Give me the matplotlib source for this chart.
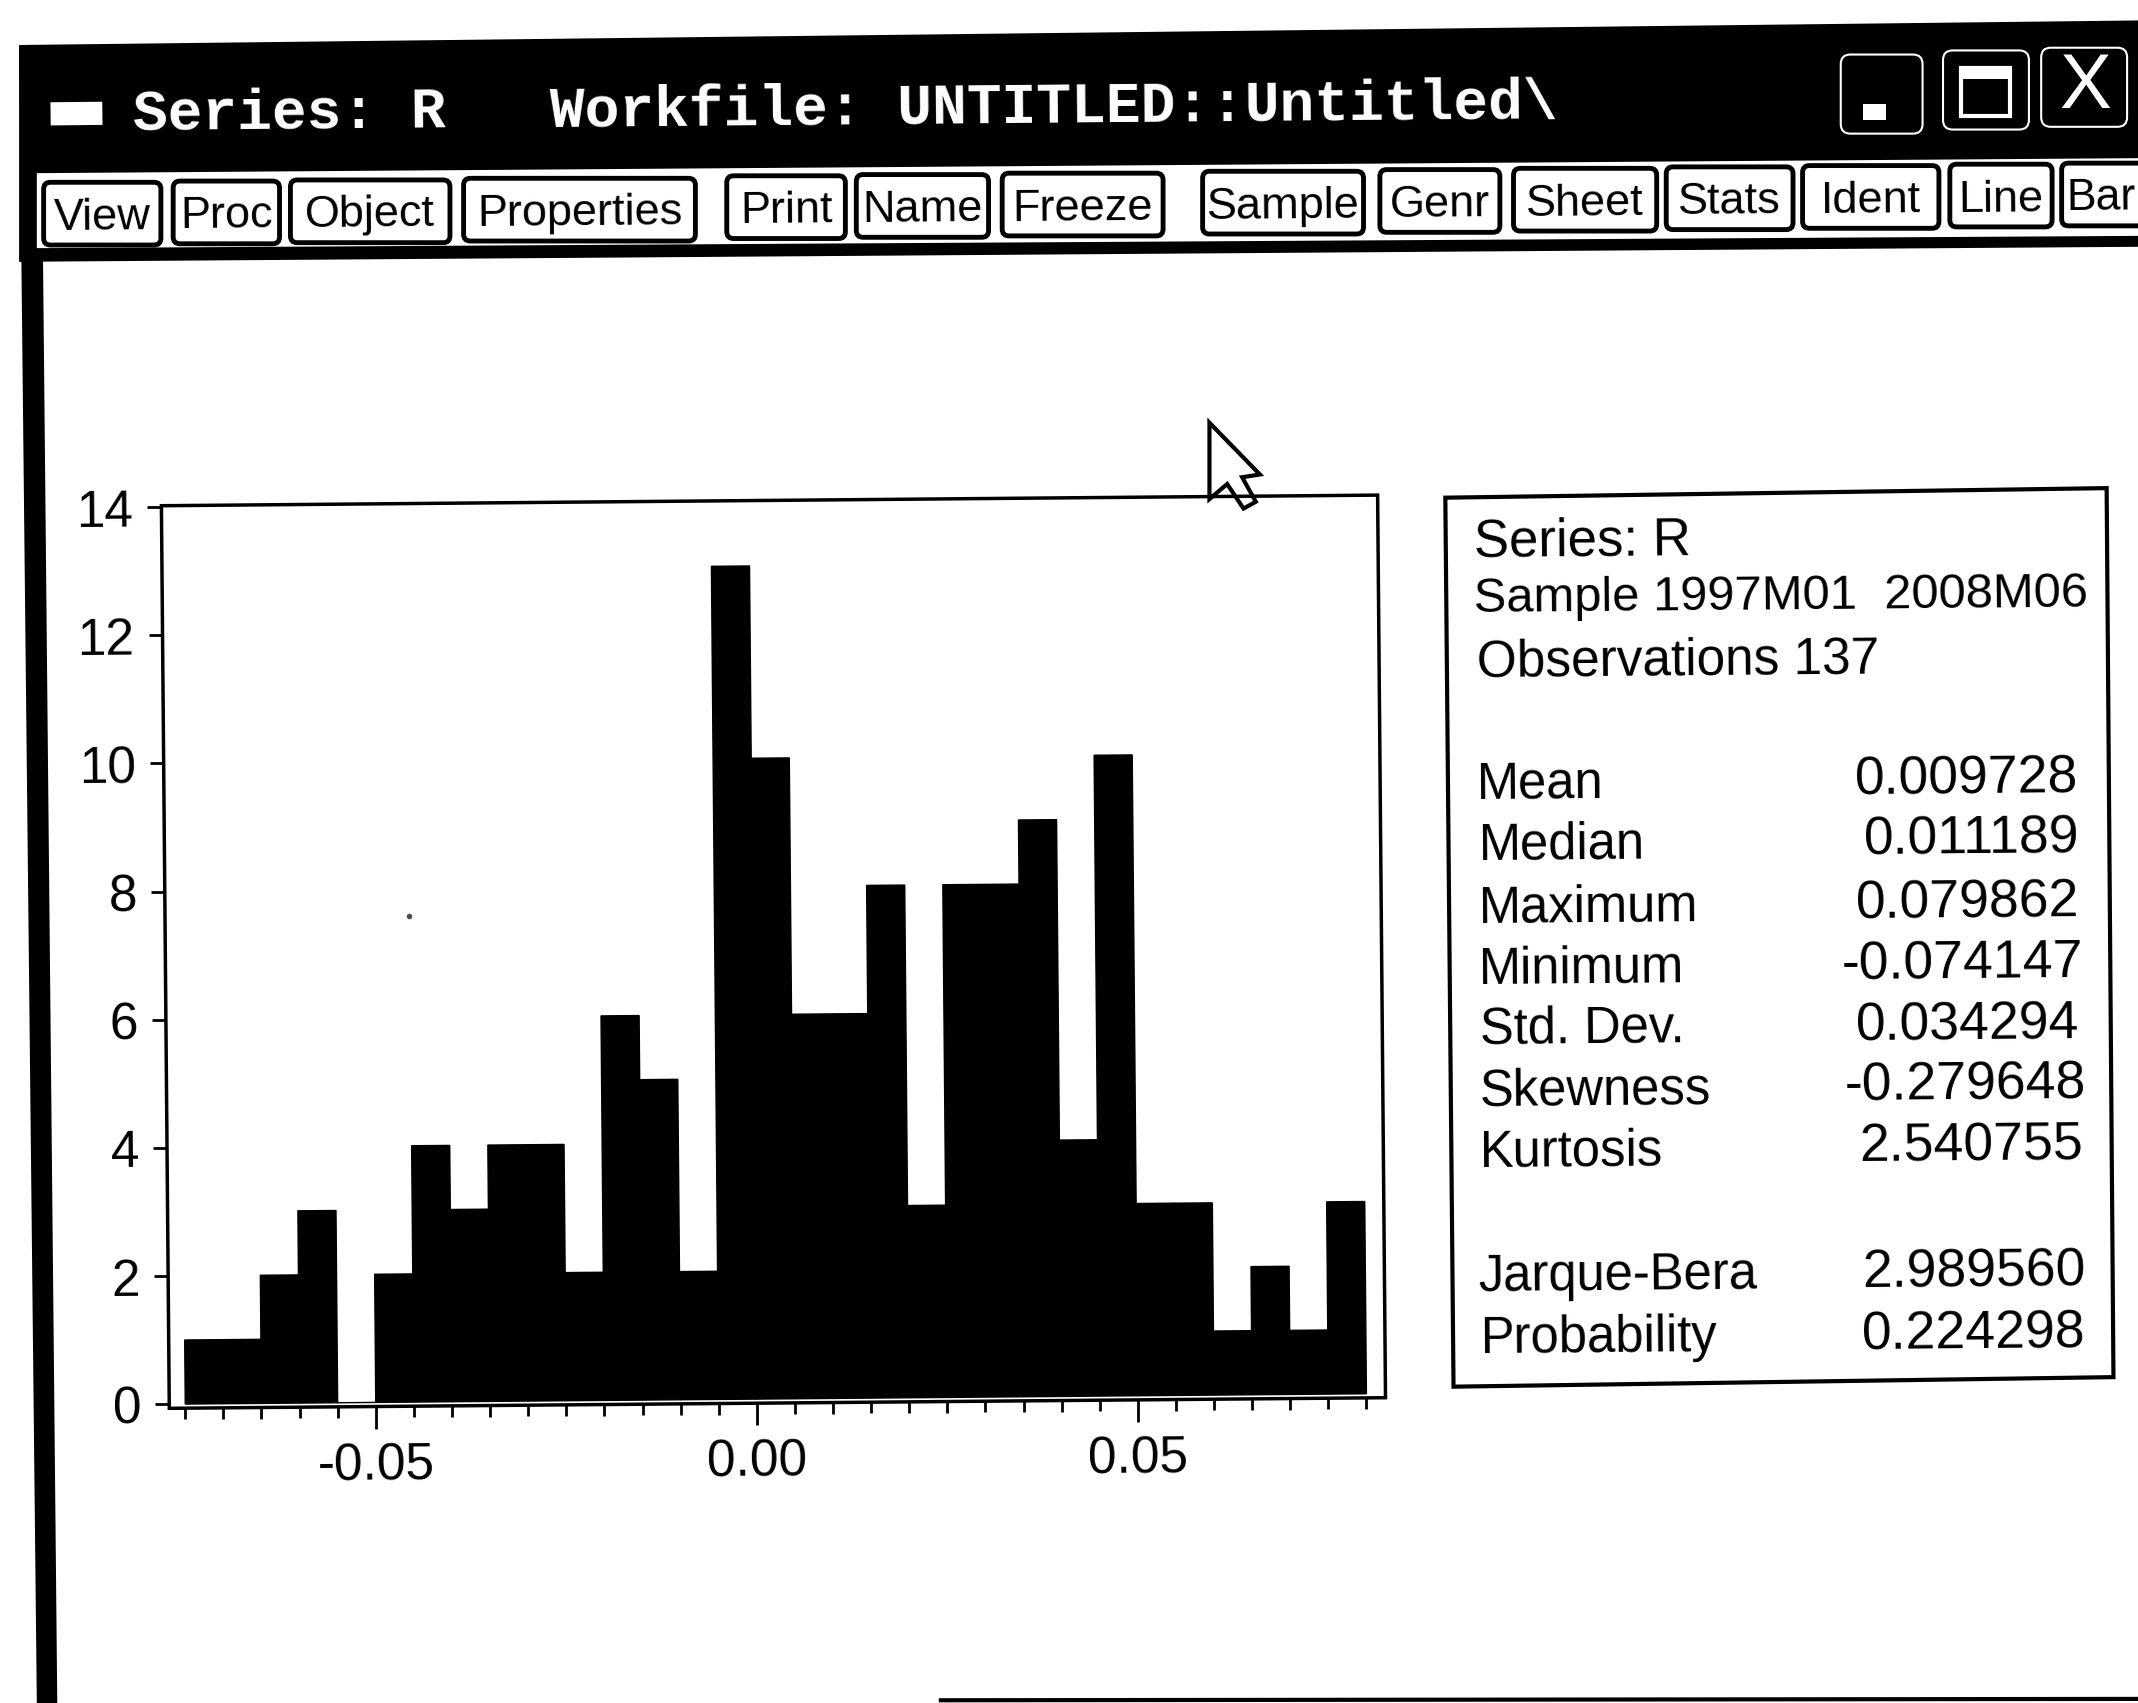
import matplotlib
matplotlib.use("Agg")
import matplotlib.pyplot as plt
from matplotlib.patches import Polygon, FancyBboxPatch, Rectangle
from matplotlib.transforms import Affine2D

# histogram, bin counts
bin_start = -0.075
bin_width = 0.005
counts = [1, 1, 2, 3, 0, 2, 4, 3, 4, 4, 2, 6, 5, 2, 13, 10, 6, 6, 8, 3,
          8, 8, 9, 4, 10, 3, 3, 1, 2, 1, 3]
x_major = [-0.05, 0.0, 0.05]
x_major_labels = ["-0.05", "0.00", "0.05"]
y_major = [0, 2, 4, 6, 8, 10, 12, 14]

# stats box
header_rows = ["Series: R", "Sample 1997M01  2008M06", "Observations 137"]
stat_names = ["Mean", "Median", "Maximum", "Minimum", "Std. Dev.", "Skewness", "Kurtosis",
              "Jarque-Bera", "Probability"]
stat_values = ["0.009728", "0.011189", "0.079862", "-0.074147", "0.034294", "-0.279648",
               "2.540755", "2.989560", "0.224298"]

# window chrome
button_names = ["View", "Proc", "Object", "Properties", "Print", "Name", "Freeze", "Sample",
                "Genr", "Sheet", "Stats", "Ident", "Line", "Bar"]
button_x0 = [32, 127, 213, 340, 533, 628, 735, 882, 1012, 1110, 1222, 1322, 1430, 1512]
button_x1 = [118, 205, 330, 510, 620, 725, 853, 1000, 1100, 1215, 1315, 1422, 1505, 1590]

W, H = 1568, 1249  # layout coords, the shrunk picture
ANGLE = 0.5
SANS = "Liberation Sans"
MONO = "Liberation Mono"

fig = plt.figure(figsize=(21.38, 17.03), dpi=100)
bg = fig.add_axes([0, 0, 1, 1])
bg.set_xlim(0, W)
bg.set_ylim(H, 0)
bg.axis("off")


def top_y(x, y_at_left):
    # everything leans up towards the right
    return y_at_left - x * 0.0095


# window body
bg.add_patch(Polygon([(14, 33), (W, 15), (W, 181), (14, 192)], fc="black", ec="none"))
bg.add_patch(Polygon([(14, 33), (30, 33), (42, H), (27, H)], fc="black", ec="none"))
bg.plot([690, W], [1247, 1246], color="black", lw=3)

# title bar
bg.add_patch(Rectangle((37, 75), 38, 17, fc="white", ec="none", angle=-0.6))
bg.text(97, 83, "Series: R", color="white", family=MONO, weight="bold", fontsize=41.7,
        va="center", rotation=ANGLE)
bg.text(403, 79, "Workfile: UNTITLED::Untitled\\", color="white", family=MONO, weight="bold",
        fontsize=41.7, va="center", rotation=ANGLE)

# title bar buttons
for x0, x1, y in [(1350, 1410, 40), (1425, 1488, 37), (1497, 1560, 35)]:
    bg.add_patch(FancyBboxPatch((x0, y), x1 - x0, 58, boxstyle="round,pad=0,rounding_size=7",
                                fc="black", ec="white", lw=1.5))
bg.add_patch(Rectangle((1366, 76), 17, 12, fc="white", ec="none"))
bg.add_patch(Rectangle((1438, 50), 36, 35, fc="none", ec="white", lw=3))
bg.add_patch(Rectangle((1438, 50), 36, 8, fc="white", ec="none"))
bg.text(1529, 64, "X", color="white", family=SANS, fontsize=56, ha="center", va="center")

# toolbar
bg.add_patch(Polygon([(27, 127), (W, 116), (W, 173), (27, 182)], fc="white", ec="none"))
for name, x0, x1 in zip(button_names, button_x0, button_x1):
    y0 = top_y(x0, 134)
    bg.add_patch(FancyBboxPatch((x0, y0), x1 - x0, 46, boxstyle="round,pad=0,rounding_size=5",
                                fc="white", ec="black", lw=3.5))
    if name == "Bar":
        bg.text(x0 + 3, y0 + 26, name, family=SANS, fontsize=32, ha="left", va="center",
                color="black", rotation=ANGLE)
    else:
        bg.text((x0 + x1) / 2, y0 + 26, name, family=SANS, fontsize=32.5, ha="center",
                va="center", color="black", rotation=ANGLE)

# histogram, drawn upright and then leaned with the scan
left, right, top, bottom = 121.25, 1013.25, 367, 1029
ax = fig.add_axes([left / W, 1 - bottom / H, (right - left) / W, (bottom - top) / H])
ax.patch.set_visible(False)
edges = [bin_start + i * bin_width for i in range(len(counts))]
ax.bar(edges, counts, width=bin_width, align="edge", color="black", edgecolor="black",
       linewidth=1, clip_on=False)
ax.set_xlim(-0.0771, 0.0825)
ax.set_ylim(-0.064, 14.02)
ax.set_xticks(x_major, x_major_labels)
ax.set_xticks([bin_start + i * bin_width for i in range(len(counts) + 1)], minor=True)
ax.set_yticks(y_major)
ax.tick_params(axis="x", which="major", direction="out", length=16, width=2, pad=9,
               labelsize=37, labelrotation=ANGLE)
ax.tick_params(axis="x", which="minor", direction="out", length=8, width=2)
ax.tick_params(axis="y", which="major", direction="out", length=10, width=2, pad=10,
               labelsize=37, labelrotation=ANGLE)
for lab in ax.get_xticklabels() + ax.get_yticklabels():
    lab.set_family(SANS)
for s in ax.spines.values():
    s.set_visible(False)

cx = (left + right) / 2 * 2138 / W
cy = (H - (top + bottom) / 2) * 1703 / H
tilt = Affine2D().rotate_deg_around(cx, cy, ANGLE)

ax.add_patch(Rectangle((0, 0), 1, 1, transform=ax.transAxes, fill=False, ec="black", lw=2.5,
                       clip_on=False))
for p in ax.patches:
    p.set_transform(p.get_data_transform() + tilt)
for tick in (ax.xaxis.get_major_ticks() + ax.xaxis.get_minor_ticks()
             + ax.yaxis.get_major_ticks()):
    for a in (tick.tick1line, tick.label1):
        a.set_transform(a.get_transform() + tilt)

# mouse cursor
bg.add_patch(Polygon([(887, 310), (887, 366), (900, 355), (912, 373), (921, 368), (911, 350),
                      (924, 348)], fc="white", ec="black", lw=3, zorder=5))
bg.plot([300], [672], marker="o", ms=3, color="0.3")

# stats box
bg.add_patch(Polygon([(1060, 365), (1545, 358), (1550, 1010), (1066, 1017)], fc="white",
                     ec="black", lw=3))
header_pos = [(1081, 397, 38), (1081, 438, 35.2), (1083, 485, 37)]
for txt, (x, y, size) in zip(header_rows, header_pos):
    bg.text(x, y, txt, family=SANS, fontsize=size, va="center", rotation=ANGLE)

name_y = [575, 620, 666, 711, 755, 800, 845, 936, 982]
value_y = [572, 616, 663, 707, 752, 796, 841, 933, 979]
value_x = [1524, 1525, 1525, 1528, 1525, 1530, 1528, 1530, 1530]
name_x = [1083, 1084, 1084, 1084, 1085, 1085, 1085, 1084, 1086]
for n, v, nx, ny, vx, vy in zip(stat_names, stat_values, name_x, name_y, value_x, value_y):
    bg.text(nx, ny, n, family=SANS, fontsize=36.5, va="center", rotation=ANGLE)
    bg.text(vx, vy, v, family=SANS, fontsize=38.5, va="center", ha="right", rotation=ANGLE)

fig.savefig("out.png", dpi=100)
